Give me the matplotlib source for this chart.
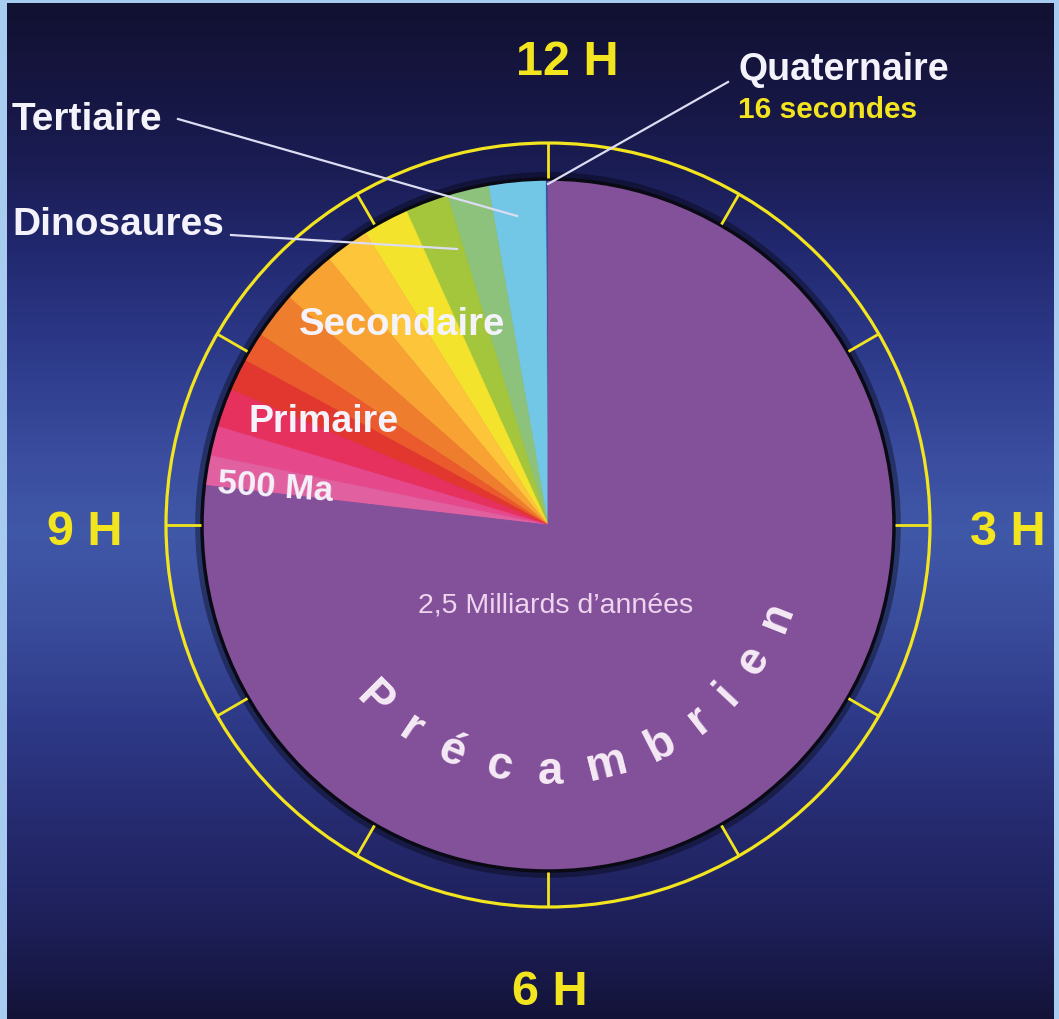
import matplotlib
matplotlib.use("Agg")
import matplotlib.pyplot as plt
import numpy as np
from matplotlib.patches import Circle
from matplotlib.textpath import TextPath
from matplotlib.font_manager import FontProperties

# eras going anticlockwise from 12 o'clock, span in degrees of the dial
era_names = ["Quaternaire", "Tertiaire", "e3", "e4", "e5", "e6", "e7", "e8",
             "e9", "e10", "e11", "e12", "e13", "Précambrien"]
era_spans = [0.4, 9.6, 7.0, 7.3, 7.7, 7.5, 9.2, 7.8, 5.0, 5.4, 6.5, 5.0, 5.0]
era_spans = era_spans + [360 - sum(era_spans)]
era_colors = ["#2c4c9c", "#72c6e6", "#8dc27c", "#a4c63c", "#f4e32c", "#fcc53a",
              "#f7a233", "#ef7d2e", "#ea5a2c", "#e2372e", "#e6305e", "#e6488c",
              "#e060a0", "#83509a"]

hour_labels = ["12 H", "3 H", "6 H", "9 H"]
era_title = "Précambrien"
sub_title = "2,5 Milliards d\u2019années"

W, H = 1059, 1020
cx, cy = 548, H - 526     # dial centre (y measured up)
R_PIE = 346
R_RING = 382

fig = plt.figure(figsize=(W / 100, H / 100), dpi=100)
fig.patch.set_facecolor("#a8ccf0")
ax = fig.add_axes([0, 0, 1, 1])
ax.set_xlim(0, W)
ax.set_ylim(0, H)
ax.set_aspect("equal")
ax.axis("off")

# background: horizontal bands, dark top and bottom, blue in the middle
stops_y = [0, 100, 170, 250, 350, 450, 530, 620, 720, 820, 920, 1020]
stops_c = ["#111132", "#171745", "#1b1d55", "#222970", "#2d3a8a", "#3a4c9e",
           "#4058a8", "#3a4c9c", "#2e3a88", "#262b70", "#1e205a", "#131338"]
rgb = np.array([matplotlib.colors.to_rgb(c) for c in stops_c])
yy = np.arange(H)
grad = np.stack([np.interp(yy, stops_y, rgb[:, k]) for k in range(3)], axis=1)
ax.imshow(grad[:, None, :], extent=[7, W - 5, 0, H - 4], aspect="auto",
          origin="upper", zorder=0)

# shadow round the pie
ax.add_patch(Circle((cx, cy), R_PIE + 2, fill=False, ec="black", lw=7, alpha=0.35, zorder=1))

wedges, _ = ax.pie(era_spans, colors=era_colors, startangle=90, counterclock=True,
                   center=(cx, cy), radius=R_PIE, frame=True,
                   wedgeprops=dict(linewidth=0.6))
for w in wedges:
    w.set_edgecolor(w.get_facecolor())
    w.set_zorder(2)
ax.set_xlim(0, W)
ax.set_ylim(0, H)
ax.axis("off")

ax.add_patch(Circle((cx, cy), R_PIE, fill=False, ec="#0a0a14", lw=2.5, zorder=3))

# yellow ring and hour ticks
yellow = "#f2e41e"
ax.add_patch(Circle((cx, cy), R_RING, fill=False, ec=yellow, lw=2.3, zorder=3))
for h in range(12):
    a = np.deg2rad(90 - 30 * h)
    ax.plot([cx + (R_PIE + 1) * np.cos(a), cx + R_RING * np.cos(a)],
            [cy + (R_PIE + 1) * np.sin(a), cy + R_RING * np.sin(a)],
            color=yellow, lw=2.0, zorder=3, solid_capstyle="butt")

font = ["Liberation Sans", "DejaVu Sans"]
hour_pos = [(567, 75), (1008, 545), (550, 1005), (85, 545)]
for lab, (x, y) in zip(hour_labels, hour_pos):
    ax.text(x, H - y, lab, color=yellow, fontsize=35, fontweight="bold",
            family=font, ha="center", va="baseline", zorder=5)

white = "#f4f2fa"
ax.text(12, H - 130, "Tertiaire", color=white, fontsize=28, fontweight="bold",
        family=font, ha="left", va="baseline", zorder=5)
ax.text(12, H - 235, "Dinosaures", color=white, fontsize=28, fontweight="bold",
        family=font, ha="left", va="baseline", zorder=5)
ax.text(738, H - 80, "Quaternaire", color=white, fontsize=27, fontweight="bold",
        family=font, ha="left", va="baseline", zorder=5)
ax.text(738, H - 118, "16 secondes", color=yellow, fontsize=21.5, fontweight="bold",
        family=font, ha="left", va="baseline", zorder=5)
ax.text(299, H - 335, "Secondaire", color=white, fontsize=27.5, fontweight="bold",
        family=font, ha="left", va="baseline", zorder=5)
ax.text(248, H - 432, "Primaire", color=white, fontsize=27, fontweight="bold",
        family=font, ha="left", va="baseline", zorder=5)
ax.text(217, H - 501, "500 Ma", color=white, fontsize=25, fontweight="bold",
        family=font, ha="left", va="baseline", rotation=-4, zorder=5)

# leader lines
line_c = "#dcdcf2"
ax.plot([178, 517], [H - 120, H - 217], color=line_c, lw=1.6, zorder=4)
ax.plot([231, 457], [H - 236, H - 250], color=line_c, lw=1.6, zorder=4)
ax.plot([728, 548], [H - 83, H - 185], color=line_c, lw=1.6, zorder=4)

ax.text(556, H - 613, sub_title, color="#eed4ee", fontsize=20.5,
        family=font, ha="center", va="baseline", zorder=5)

# curved "Précambrien" along the lower arc
fp = FontProperties(family="Liberation Sans", weight="bold", size=33)
widths = [TextPath((0, 0), ch, prop=fp).get_extents().width * 100 / 72 for ch in era_title]
r_txt = 246
a0, a1 = -135.0, -21.6
arc_len = np.deg2rad(a1 - a0) * r_txt
base = sum((widths[i] + widths[i + 1]) / 2 for i in range(len(widths) - 1))
gap = (arc_len - base) / (len(widths) - 1)
s = 0.0
for i, ch in enumerate(era_title):
    if i > 0:
        s += (widths[i - 1] + widths[i]) / 2 + gap
    th = a0 + np.rad2deg(s / r_txt)
    t = np.deg2rad(th)
    ax.text(cx + r_txt * np.cos(t), cy + r_txt * np.sin(t), ch, color="#f6eaf6",
            fontproperties=fp, ha="center", va="center", rotation=th + 90,
            rotation_mode="anchor", zorder=5)

fig.savefig("out.png", dpi=100, facecolor=fig.get_facecolor())
